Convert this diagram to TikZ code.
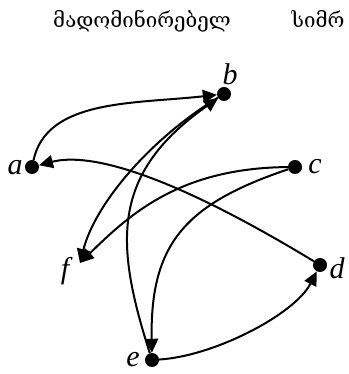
\documentclass[tikz,border=0pt]{standalone}
\usepackage{fontspec}
\setmainfont{Liberation Serif}
\newfontfamily\geofont{DejaVu Serif}
\usetikzlibrary{arrows.meta}

\begin{document}
\begin{tikzpicture}[x=1pt, y=1pt,
  vertex/.style={circle, fill, inner sep=0pt, minimum size=14pt},
  vlabel/.style={font=\fontsize{30}{30}\selectfont\itshape, inner sep=0pt},
  title/.style={font=\geofont\fontsize{20.5}{20.5}\selectfont, anchor=base, inner sep=0pt},
  arc/.style={line width=2pt, -{Triangle[length=14pt, width=13pt]}}]
\useasboundingbox (0,0) rectangle (348,374);
\node[title] (t1) at (142,346) {მადომინირებელ};
\node[title] (t2) at (318,346) {სიმრ};
% vertices
\node[vertex] (a) at (32,207) {};
\node[vertex] (b) at (224,280) {};
\node[vertex] (c) at (295,207) {};
\node[vertex] (d) at (320,109) {};
\node[vertex] (e) at (152,14) {};
\coordinate (f) at (80,111);
% labels
\node[vlabel] (la) at (15,206) {a};
\node[vlabel] (lb) at (230,300) {b};
\node[vlabel] (lc) at (315,207) {c};
\node[vlabel] (ld) at (337,106) {d};
\node[vlabel] (le) at (133,14) {e};
\node[vlabel] (lf) at (65,103) {f};
% arcs
\draw[arc] (a) .. controls +(15,68) and +(-90,-10) .. (b);
\draw[arc] (d) .. controls +(-150,91) and +(58,15) .. (a);
\draw[arc] (b) .. controls +(-74,-45) and +(15,59) .. (f);
\draw[arc] (c) .. controls +(-115,-1) and +(50,49) .. (f);
\draw[arc] (e) .. controls +(-37,116) and +(-114,-80) .. (b);
\draw[arc] (c) .. controls +(-110,-37) and +(-2,116) .. (e);
\draw[arc] (e) .. controls +(63,4) and +(-25,-49) .. (d);
\end{tikzpicture}
\end{document}
